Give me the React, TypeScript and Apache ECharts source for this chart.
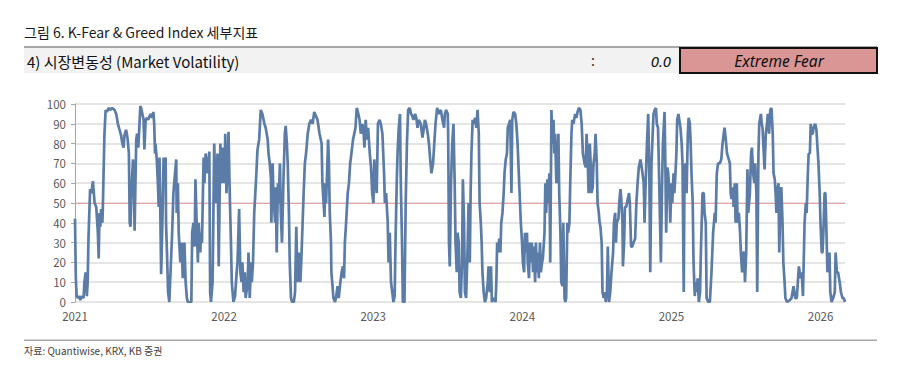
import React, { useEffect, useRef } from 'react';
import * as echarts from 'echarts';

// Market volatility sub-index (0-100), days since 2021-01-01
const dayOffsets = [
  0, 2, 4, 7, 10, 13, 17, 21, 23, 26, 29, 31, 33, 37, 40, 44, 45, 48, 52, 56, 58, 60, 62, 64, 67, 68, 72, 75, 78, 83, 86, 91, 97,
  101, 105, 109, 113, 116, 119, 121, 125, 127, 129, 132, 134, 136, 138, 142, 144, 146, 148, 150, 152, 155, 158, 160, 162, 165,
  168, 170, 173, 176, 179, 183, 186, 189, 192, 194, 196, 197, 200, 203, 205, 207, 209, 211, 214, 217, 219, 222, 223, 226, 228,
  231, 233, 236, 238, 241, 245, 248, 249, 252, 254, 258, 261, 264, 268, 271, 274, 276, 281, 285, 287, 290, 293, 295, 298, 301,
  303, 307, 309, 311, 315, 317, 320, 325, 329, 331, 333, 337, 341, 345, 349, 352, 356, 359, 361, 366, 368, 371, 374, 376, 379,
  382, 384, 388, 392, 396, 398, 402, 405, 408, 410, 413, 416, 418, 423, 425, 428, 431, 433, 436, 439, 443, 447, 451, 455, 459,
  464, 467, 472, 474, 477, 480, 481, 484, 486, 490, 492, 494, 497, 499, 502, 504, 507, 511, 514, 516, 519, 521, 524, 526, 529,
  532, 536, 539, 542, 545, 548, 552, 555, 560, 563, 566, 570, 574, 578, 582, 586, 590, 594, 599, 604, 606, 611, 613, 615, 620,
  622, 624, 627, 628, 630, 633, 637, 640, 643, 646, 650, 653, 656, 659, 661, 664, 668, 671, 674, 677, 681, 684, 687, 690, 694,
  697, 700, 704, 707, 709, 712, 715, 718, 722, 725, 728, 731, 733, 736, 739, 742, 746, 749, 753, 757, 759, 762, 766, 768, 771,
  774, 777, 780, 783, 785, 788, 790, 793, 796, 798, 801, 803, 807, 810, 813, 816, 820, 823, 826, 829, 833, 836, 839, 842, 847,
  851, 854, 857, 860, 864, 867, 870, 873, 877, 880, 883, 887, 891, 896, 900, 904, 906, 909, 913, 914, 916, 918, 921, 924, 927,
  930, 932, 935, 937, 940, 942, 945, 948, 950, 953, 955, 958, 962, 964, 967, 969, 971, 974, 976, 980, 983, 986, 989, 991, 994,
  996, 998, 1001, 1004, 1007, 1011, 1013, 1016, 1019, 1021, 1025, 1030, 1032, 1034, 1037, 1039, 1042, 1044, 1047, 1050, 1052,
  1055, 1058, 1060, 1063, 1066, 1069, 1071, 1074, 1078, 1081, 1084, 1087, 1090, 1092, 1095, 1097, 1100, 1102, 1104, 1107, 1109,
  1112, 1114, 1117, 1119, 1122, 1124, 1127, 1129, 1131, 1134, 1136, 1139, 1141, 1144, 1146, 1150, 1152, 1154, 1157, 1159, 1162,
  1164, 1167, 1169, 1172, 1174, 1176, 1179, 1181, 1184, 1186, 1189, 1191, 1194, 1196, 1199, 1201, 1203, 1206, 1208, 1211, 1213,
  1216, 1218, 1221, 1225, 1228, 1231, 1234, 1238, 1241, 1244, 1248, 1251, 1253, 1256, 1258, 1261, 1263, 1265, 1268, 1270, 1273,
  1275, 1278, 1280, 1283, 1285, 1287, 1290, 1292, 1295, 1298, 1300, 1303, 1305, 1308, 1311, 1314, 1318, 1320, 1323, 1325, 1327,
  1331, 1333, 1336, 1338, 1341, 1342, 1345, 1347, 1350, 1354, 1357, 1359, 1362, 1365, 1368, 1372, 1375, 1378, 1381, 1385, 1388,
  1390, 1393, 1395, 1398, 1401, 1404, 1407, 1409, 1412, 1414, 1417, 1420, 1423, 1425, 1428, 1430, 1433, 1435, 1438, 1440, 1444,
  1446, 1448, 1451, 1453, 1456, 1458, 1461, 1463, 1466, 1468, 1470, 1473, 1475, 1478, 1480, 1483, 1486, 1488, 1491, 1493, 1496,
  1498, 1501, 1503, 1506, 1508, 1510, 1513, 1515, 1518, 1520, 1523, 1525, 1528, 1531, 1533, 1537, 1540, 1542, 1545, 1547, 1551,
  1555, 1559, 1563, 1567, 1569, 1572, 1575, 1579, 1583, 1586, 1589, 1591, 1594, 1597, 1600, 1604, 1606, 1608, 1612, 1613, 1616,
  1618, 1621, 1623, 1626, 1629, 1631, 1634, 1636, 1639, 1641, 1644, 1647, 1649, 1653, 1656, 1658, 1661, 1664, 1666, 1669, 1671,
  1674, 1676, 1680, 1682, 1684, 1687, 1689, 1692, 1695, 1697, 1700, 1703, 1706, 1709, 1711, 1714, 1716, 1718, 1720, 1723, 1725,
  1728, 1730, 1733, 1735, 1738, 1740, 1744, 1751, 1755, 1760, 1764, 1768, 1773, 1777, 1780, 1783, 1787, 1790, 1792, 1795, 1797,
  1800, 1802, 1804, 1807, 1809, 1813, 1816, 1818, 1821, 1824, 1826, 1829, 1831, 1833, 1836, 1838, 1840, 1843, 1845, 1848, 1850,
  1853, 1857, 1861, 1863, 1866, 1869, 1873, 1876, 1880, 1883, 1886,
];

const volatility = [
  42, 12, 3, 2, 3, 1, 3, 2, 10, 15, 3, 10, 32, 57, 55, 61, 58, 50, 48, 35, 22, 45, 38, 47, 40, 46, 84, 97, 96, 98, 97, 98, 97,
  95, 90, 87, 84, 80, 78, 84, 87, 85, 82, 75, 40, 38, 55, 72, 60, 36, 60, 82, 85, 78, 90, 99, 98, 95,
  92, 77, 92, 93, 92, 94, 95, 93, 96, 90, 75, 80, 73, 60, 48, 73, 45, 14, 40, 73, 65, 73, 40, 20, 5,
  0, 10, 25, 35, 55, 65, 72, 45, 60, 35, 20, 30, 12, 30, 10, 2, 0, 0, 0, 35, 40, 28, 62, 40, 20,
  40, 25, 35, 30, 73, 60, 75, 65, 76, 5, 0, 10, 80, 50, 75, 18, 80, 60, 78, 60, 85, 55, 70, 86, 55,
  30, 10, 0, 3, 15, 20, 47, 15, 10, 20, 5, 15, 2, 10, 25, 2, 20, 10, 20, 45, 60, 77, 82, 97, 95,
  90, 88, 82, 75, 70, 62, 40, 70, 55, 40, 58, 25, 60, 50, 70, 45, 30, 65, 85, 89, 80, 70, 45, 20, 2,
  0, 0, 5, 38, 10, 25, 10, 25, 55, 70, 75, 85, 90, 92, 90, 96, 94, 92, 85, 80, 60, 43, 60, 50, 82,
  70, 45, 30, 15, 10, 2, 0, 3, 8, 2, 10, 15, 18, 12, 30, 40, 55, 60, 70, 75, 82, 85, 88, 98, 95,
  92, 85, 90, 85, 78, 92, 82, 88, 75, 68, 55, 50, 72, 62, 55, 90, 92, 90, 85, 65, 50, 55, 40, 20, 35,
  10, 5, 0, 3, 30, 60, 75, 88, 95, 60, 30, 0, 0, 50, 80, 97, 98, 95, 94, 92, 95, 93, 88, 92, 90,
  83, 87, 92, 90, 85, 80, 72, 65, 70, 80, 90, 98, 95, 97, 92, 88, 95, 97, 95, 85, 30, 18, 60, 80, 90,
  60, 30, 15, 35, 30, 5, 2, 20, 62, 40, 5, 2, 30, 50, 20, 55, 75, 92, 90, 93, 88, 97, 85, 50, 40,
  30, 15, 5, 0, 2, 10, 18, 5, 18, 0, 2, 0, 10, 30, 25, 32, 25, 40, 45, 55, 65,
  72, 75, 88, 90, 92, 55, 92, 96, 95, 90, 80, 65, 50, 40, 30, 20, 15, 35, 25, 35, 20,
  12, 30, 20, 30, 15, 28, 10, 30, 15, 25, 12, 30, 15, 20, 22, 35, 60, 45, 62, 50, 65,
  20, 97, 80, 92, 75, 85, 60, 70, 85, 55, 35, 10, 8, 40, 2, 0, 2, 40, 35, 40, 60,
  85, 92, 90, 95, 93, 96, 98, 97, 90, 75, 70, 68, 85, 70, 55, 80, 70, 55, 58, 70, 75,
  85, 70, 50, 45, 40, 38, 30, 5, 2, 5, 0, 5, 28, 0, 5, 15, 25, 40, 45, 30, 40,
  42, 50, 57, 52, 40, 18, 30, 48, 48, 52, 55, 50, 28, 28, 30, 32, 50, 60, 68, 72, 68,
  65, 60, 40, 62, 80, 95, 60, 15, 70, 80, 95, 97, 98, 90, 88, 70, 40, 20, 60, 80, 96,
  70, 35, 68, 65, 55, 40, 60, 50, 65, 55, 62, 75, 92, 95, 92, 88, 80, 70, 5, 68, 70,
  55, 85, 93, 90, 80, 65, 50, 20, 3, 10, 5, 12, 0, 5, 25, 55, 55, 45, 40, 2, 0,
  0, 15, 35, 45, 40, 65, 70, 70, 72, 80, 85, 88, 82, 75, 73, 70, 55, 52, 58, 48, 60,
  40, 60, 40, 45, 35, 25, 15, 25, 25, 10, 25, 67, 45, 55, 75, 78, 65, 60, 70, 55, 5,
  75, 90, 95, 90, 88, 75, 67, 85, 90, 95, 85, 97, 98, 85, 65, 62, 55, 45, 55, 60, 25,
  55, 58, 40, 20, 10, 2, 0, 1, 2, 8, 2, 2, 18, 12, 15, 3, 40, 50, 45, 65, 75,
  75, 90, 85, 85, 88, 90, 87, 80, 70, 55, 40, 25, 25, 35, 55, 55, 40, 15, 20, 25, 5,
  0, 2, 5, 25, 15, 15, 10, 5, 2, 2, 0,
];

const START_YEAR = 2021;
const DAYS_PER_YEAR = 365.25;
const yearLabels = ['2021', '2022', '2023', '2024', '2025', '2026'];
const neutralLevel = 50;

const figureTitle = '그림 6. K-Fear & Greed Index 세부지표';
const panelTitle = '4) 시장변동성 (Market Volatility)';
const currentValue = '0.0';
const currentState = 'Extreme Fear';
const sourceNote = '자료: Quantiwise, KRX, KB 증권';

export default function App() {
  const ref = useRef<HTMLDivElement>(null);

  useEffect(() => {
    if (!ref.current) return;
    const chart = echarts.init(ref.current, null, { renderer: 'svg' });
    const font = '"Noto Sans CJK KR", "Noto Sans", sans-serif';
    const seriesData = dayOffsets.map((d, i) => [d, volatility[i]]);

    chart.setOption({
      animation: false,
      backgroundColor: '#ffffff',
      grid: { left: 75, right: 55, top: 104, bottom: 81, containLabel: false },
      xAxis: {
        type: 'value',
        min: 0,
        max: dayOffsets[dayOffsets.length - 1],
        interval: DAYS_PER_YEAR,
        axisLine: { show: false },
        axisTick: { show: false },
        splitLine: { show: false },
        axisLabel: {
          margin: 8,
          color: '#595959',
          fontSize: 11.5,
          fontFamily: font,
          formatter: (v: number) => {
            const k = v / DAYS_PER_YEAR;
            const r = Math.round(k);
            if (Math.abs(k - r) > 0.01) return '';
            return yearLabels[r] ?? String(START_YEAR + r);
          },
        },
      },
      yAxis: {
        type: 'value',
        min: 0,
        max: 100,
        interval: 10,
        axisLine: { show: true, lineStyle: { color: '#a6a6a6', width: 1 } },
        axisTick: { show: true, length: 4, lineStyle: { color: '#a6a6a6' } },
        splitLine: { show: true, lineStyle: { color: '#dcdcdc', width: 1.5 } },
        axisLabel: { margin: 9, color: '#595959', fontSize: 11.5, fontFamily: font },
      },
      series: [
        {
          type: 'line',
          data: seriesData,
          showSymbol: false,
          symbol: 'none',
          lineStyle: { color: '#5b7ca6', width: 2.7 },
          itemStyle: { color: '#5b7ca6' },
          z: 3,
          markLine: {
            silent: true,
            symbol: 'none',
            label: { show: false },
            lineStyle: { color: '#f0a0a0', width: 1, type: 'solid' },
            data: [{ yAxis: neutralLevel }],
            z: 2,
          },
        },
      ],
      graphic: [
        {
          type: 'text',
          z: 10,
          style: {
            x: 24, y: 32, text: figureTitle, fontSize: 14, fontWeight: 'normal', fontFamily: font,
            fill: '#1a1a1a', align: 'left', verticalAlign: 'middle',
          },
        },
        { type: 'rect', z: 10, shape: { x: 24, y: 46, width: 853, height: 2 }, style: { fill: '#a6a6a6' } },
        { type: 'rect', z: 9, shape: { x: 24, y: 48, width: 656, height: 25 }, style: { fill: '#f2f2f2' } },
        {
          type: 'text',
          z: 10,
          style: {
            x: 27, y: 61, text: panelTitle, fontSize: 15, fontFamily: font,
            fill: '#111111', align: 'left', verticalAlign: 'middle',
          },
        },
        {
          type: 'text',
          z: 10,
          style: { x: 593, y: 60, text: ':', fontSize: 14, fontFamily: font, fill: '#333333', align: 'center', verticalAlign: 'middle' },
        },
        {
          type: 'text',
          z: 10,
          style: {
            x: 671, y: 61, text: currentValue, fontSize: 15, fontStyle: 'italic', fontFamily: '"Noto Sans", sans-serif',
            fill: '#111111', align: 'right', verticalAlign: 'middle',
          },
        },
        {
          type: 'rect',
          z: 10,
          shape: { x: 680, y: 48, width: 197, height: 25 },
          style: { fill: '#da9694', stroke: '#111111', lineWidth: 2 },
        },
        {
          type: 'text',
          z: 11,
          style: {
            x: 779, y: 61, text: currentState, fontSize: 15.5, fontStyle: 'italic', fontFamily: '"Noto Sans", sans-serif',
            fill: '#111111', align: 'center', verticalAlign: 'middle',
          },
        },
        { type: 'rect', z: 10, shape: { x: 24, y: 339.5, width: 853, height: 1.5 }, style: { fill: '#a6a6a6' } },
        {
          type: 'text',
          z: 10,
          style: {
            x: 24, y: 350, text: sourceNote, fontSize: 10, fontFamily: font,
            fill: '#404040', align: 'left', verticalAlign: 'middle',
          },
        },
      ],
    });

    return () => chart.dispose();
  }, []);

  return (
    <div
      ref={ref}
      style={{ position: 'absolute', left: 0, top: 0, width: 900, height: 383, background: '#ffffff' }}
    />
  );
}
